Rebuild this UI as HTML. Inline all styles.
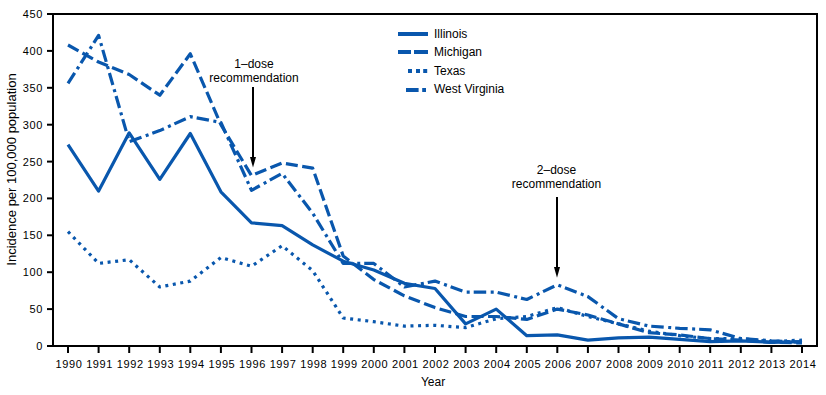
<!DOCTYPE html>
<html><head><meta charset="utf-8"><style>
html,body{margin:0;padding:0;background:#fff;}
svg{display:block;}
.t{font-family:"Liberation Sans",sans-serif;font-size:11px;letter-spacing:0.6px;fill:#000;}
.t2{font-family:"Liberation Sans",sans-serif;font-size:12px;fill:#000;}
.t4{font-family:"Liberation Sans",sans-serif;font-size:13px;fill:#000;}
.t3{font-family:"Liberation Sans",sans-serif;font-size:12px;fill:#000;}
</style></head><body>
<svg width="826" height="395" viewBox="0 0 826 395">
<rect x="53" y="14" width="764" height="332" fill="none" stroke="#000" stroke-width="2"/>
<line x1="47" y1="346.0" x2="53" y2="346.0" stroke="#000" stroke-width="2"/>
<text x="43" y="350.0" text-anchor="end" class="t">0</text>
<line x1="47" y1="309.1" x2="53" y2="309.1" stroke="#000" stroke-width="2"/>
<text x="43" y="313.1" text-anchor="end" class="t">50</text>
<line x1="47" y1="272.2" x2="53" y2="272.2" stroke="#000" stroke-width="2"/>
<text x="43" y="276.2" text-anchor="end" class="t">100</text>
<line x1="47" y1="235.3" x2="53" y2="235.3" stroke="#000" stroke-width="2"/>
<text x="43" y="239.3" text-anchor="end" class="t">150</text>
<line x1="47" y1="198.4" x2="53" y2="198.4" stroke="#000" stroke-width="2"/>
<text x="43" y="202.4" text-anchor="end" class="t">200</text>
<line x1="47" y1="161.6" x2="53" y2="161.6" stroke="#000" stroke-width="2"/>
<text x="43" y="165.6" text-anchor="end" class="t">250</text>
<line x1="47" y1="124.7" x2="53" y2="124.7" stroke="#000" stroke-width="2"/>
<text x="43" y="128.7" text-anchor="end" class="t">300</text>
<line x1="47" y1="87.8" x2="53" y2="87.8" stroke="#000" stroke-width="2"/>
<text x="43" y="91.8" text-anchor="end" class="t">350</text>
<line x1="47" y1="50.9" x2="53" y2="50.9" stroke="#000" stroke-width="2"/>
<text x="43" y="54.9" text-anchor="end" class="t">400</text>
<line x1="47" y1="14.0" x2="53" y2="14.0" stroke="#000" stroke-width="2"/>
<text x="43" y="18.0" text-anchor="end" class="t">450</text>
<line x1="68.0" y1="346" x2="68.0" y2="353" stroke="#000" stroke-width="2"/>
<text x="69.0" y="368" text-anchor="middle" class="t">1990</text>
<line x1="98.6" y1="346" x2="98.6" y2="353" stroke="#000" stroke-width="2"/>
<text x="99.6" y="368" text-anchor="middle" class="t">1991</text>
<line x1="129.2" y1="346" x2="129.2" y2="353" stroke="#000" stroke-width="2"/>
<text x="130.2" y="368" text-anchor="middle" class="t">1992</text>
<line x1="159.8" y1="346" x2="159.8" y2="353" stroke="#000" stroke-width="2"/>
<text x="160.8" y="368" text-anchor="middle" class="t">1993</text>
<line x1="190.3" y1="346" x2="190.3" y2="353" stroke="#000" stroke-width="2"/>
<text x="191.3" y="368" text-anchor="middle" class="t">1994</text>
<line x1="220.9" y1="346" x2="220.9" y2="353" stroke="#000" stroke-width="2"/>
<text x="221.9" y="368" text-anchor="middle" class="t">1995</text>
<line x1="251.5" y1="346" x2="251.5" y2="353" stroke="#000" stroke-width="2"/>
<text x="252.5" y="368" text-anchor="middle" class="t">1996</text>
<line x1="282.1" y1="346" x2="282.1" y2="353" stroke="#000" stroke-width="2"/>
<text x="283.1" y="368" text-anchor="middle" class="t">1997</text>
<line x1="312.7" y1="346" x2="312.7" y2="353" stroke="#000" stroke-width="2"/>
<text x="313.7" y="368" text-anchor="middle" class="t">1998</text>
<line x1="343.2" y1="346" x2="343.2" y2="353" stroke="#000" stroke-width="2"/>
<text x="344.2" y="368" text-anchor="middle" class="t">1999</text>
<line x1="373.8" y1="346" x2="373.8" y2="353" stroke="#000" stroke-width="2"/>
<text x="374.8" y="368" text-anchor="middle" class="t">2000</text>
<line x1="404.4" y1="346" x2="404.4" y2="353" stroke="#000" stroke-width="2"/>
<text x="405.4" y="368" text-anchor="middle" class="t">2001</text>
<line x1="435.0" y1="346" x2="435.0" y2="353" stroke="#000" stroke-width="2"/>
<text x="436.0" y="368" text-anchor="middle" class="t">2002</text>
<line x1="465.6" y1="346" x2="465.6" y2="353" stroke="#000" stroke-width="2"/>
<text x="466.6" y="368" text-anchor="middle" class="t">2003</text>
<line x1="496.2" y1="346" x2="496.2" y2="353" stroke="#000" stroke-width="2"/>
<text x="497.2" y="368" text-anchor="middle" class="t">2004</text>
<line x1="526.8" y1="346" x2="526.8" y2="353" stroke="#000" stroke-width="2"/>
<text x="527.8" y="368" text-anchor="middle" class="t">2005</text>
<line x1="557.3" y1="346" x2="557.3" y2="353" stroke="#000" stroke-width="2"/>
<text x="558.3" y="368" text-anchor="middle" class="t">2006</text>
<line x1="587.9" y1="346" x2="587.9" y2="353" stroke="#000" stroke-width="2"/>
<text x="588.9" y="368" text-anchor="middle" class="t">2007</text>
<line x1="618.5" y1="346" x2="618.5" y2="353" stroke="#000" stroke-width="2"/>
<text x="619.5" y="368" text-anchor="middle" class="t">2008</text>
<line x1="649.1" y1="346" x2="649.1" y2="353" stroke="#000" stroke-width="2"/>
<text x="650.1" y="368" text-anchor="middle" class="t">2009</text>
<line x1="679.7" y1="346" x2="679.7" y2="353" stroke="#000" stroke-width="2"/>
<text x="680.7" y="368" text-anchor="middle" class="t">2010</text>
<line x1="710.2" y1="346" x2="710.2" y2="353" stroke="#000" stroke-width="2"/>
<text x="711.2" y="368" text-anchor="middle" class="t">2011</text>
<line x1="740.8" y1="346" x2="740.8" y2="353" stroke="#000" stroke-width="2"/>
<text x="741.8" y="368" text-anchor="middle" class="t">2012</text>
<line x1="771.4" y1="346" x2="771.4" y2="353" stroke="#000" stroke-width="2"/>
<text x="772.4" y="368" text-anchor="middle" class="t">2013</text>
<line x1="802.0" y1="346" x2="802.0" y2="353" stroke="#000" stroke-width="2"/>
<text x="803.0" y="368" text-anchor="middle" class="t">2014</text>
<text x="433" y="386" text-anchor="middle" class="t2">Year</text>
<text transform="translate(16,169.5) rotate(-90)" text-anchor="middle" class="t4">Incidence per 100,000 population</text>
<polyline points="68.0,144.6 98.6,191.1 129.2,132.8 159.8,179.3 190.3,133.5 220.9,191.8 251.5,222.8 282.1,225.7 312.7,244.9 343.2,261.2 373.8,270.0 404.4,283.3 435.0,288.5 465.6,323.9 496.2,309.1 526.8,335.7 557.3,334.9 587.9,340.1 618.5,337.9 649.1,337.1 679.7,339.4 710.2,341.6 740.8,340.8 771.4,342.3 802.0,341.6" fill="none" stroke="#0957ad" stroke-width="3.2" stroke-linejoin="round"/>
<polyline points="68.0,45.0 98.6,62.0 129.2,74.5 159.8,95.2 190.3,53.8 220.9,124.7 251.5,175.6 282.1,163.0 312.7,168.2 343.2,256.0 373.8,279.6 404.4,295.8 435.0,307.6 465.6,316.5 496.2,316.5 526.8,319.4 557.3,309.1 587.9,315.0 618.5,323.9 649.1,332.7 679.7,334.9 710.2,338.6 740.8,340.1 771.4,342.3 802.0,343.0" fill="none" stroke="#0957ad" stroke-width="3.2" stroke-linejoin="round" stroke-dasharray="12 4.5"/>
<polyline points="68.0,231.6 98.6,263.4 129.2,259.7 159.8,287.0 190.3,281.1 220.9,257.5 251.5,266.3 282.1,245.7 312.7,270.7 343.2,318.0 373.8,321.7 404.4,326.1 435.0,325.3 465.6,327.6 496.2,318.7 526.8,316.5 557.3,307.6 587.9,316.5 618.5,323.9 649.1,331.2 679.7,335.7 710.2,338.6 740.8,338.6 771.4,341.6 802.0,340.1" fill="none" stroke="#0957ad" stroke-width="3.2" stroke-linejoin="round" stroke-dasharray="3 4.6"/>
<polyline points="68.0,83.4 98.6,35.4 129.2,141.6 159.8,130.6 190.3,116.6 220.9,122.5 251.5,190.3 282.1,173.4 312.7,213.2 343.2,263.4 373.8,263.4 404.4,287.0 435.0,281.1 465.6,292.1 496.2,292.1 526.8,299.5 557.3,284.8 587.9,296.6 618.5,318.7 649.1,326.1 679.7,328.3 710.2,329.8 740.8,338.6 771.4,340.8 802.0,342.3" fill="none" stroke="#0957ad" stroke-width="3.2" stroke-linejoin="round" stroke-dasharray="12.5 4.5 3 4"/>
<line x1="398" y1="34" x2="428" y2="34" stroke="#0957ad" stroke-width="4"/>
<text x="434" y="38" class="t3">Illinois</text>
<line x1="398" y1="52" x2="428" y2="52" stroke="#0957ad" stroke-width="4" stroke-dasharray="13 3 14"/>
<text x="434" y="56" class="t3">Michigan</text>
<rect x="408.0" y="69" width="4" height="4" fill="#0957ad"/>
<rect x="416.0" y="69" width="4" height="4" fill="#0957ad"/>
<rect x="423.2" y="69" width="4" height="4" fill="#0957ad"/>
<text x="434" y="75" class="t3">Texas</text>
<rect x="406" y="88" width="12.6" height="4" fill="#0957ad"/>
<rect x="422.2" y="88" width="3.8" height="4" fill="#0957ad"/>
<text x="434" y="93" class="t3">West Virginia</text>
<text x="254" y="68" text-anchor="middle" class="t3">1–dose</text>
<text x="254" y="82" text-anchor="middle" class="t3">recommendation</text>
<line x1="253" y1="87" x2="253" y2="158" stroke="#000" stroke-width="2"/>
<path d="M250,157 L256,157 L253,167.5 Z" fill="#000"/>
<text x="556.5" y="174" text-anchor="middle" class="t3">2–dose</text>
<text x="556.5" y="188" text-anchor="middle" class="t3">recommendation</text>
<line x1="557" y1="197" x2="557" y2="268" stroke="#000" stroke-width="2"/>
<path d="M554,267 L560,267 L557,277.8 Z" fill="#000"/>
</svg>
</body></html>
